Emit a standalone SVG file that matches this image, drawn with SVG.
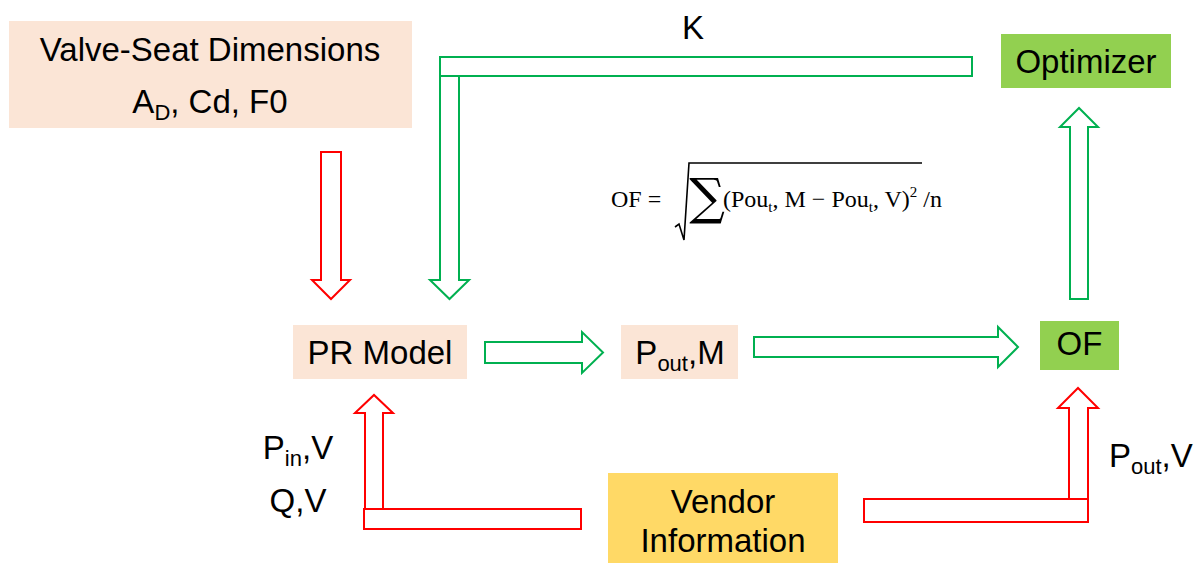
<svg xmlns="http://www.w3.org/2000/svg" width="1199" height="563" viewBox="0 0 1199 563">
<style>
.lbl{font-family:"Liberation Sans",Arial,sans-serif;font-size:33px;fill:#000}
.sub{font-size:22px}
.math{font-family:"Liberation Serif","Times New Roman",serif;font-size:24px;fill:#000}
.peach{fill:#FBE5D6}
.lime{fill:#92D050}
.gold{fill:#FFD966}
.g{fill:#fff;stroke:#00B050;stroke-width:2}
.r{fill:#fff;stroke:#FF0000;stroke-width:2}
</style>
<rect width="1199" height="563" fill="#fff"/>

<g id="connectors">
  <!-- K feedback: optimizer to PR model -->
  <rect class="g" x="440" y="57" width="532" height="19"/>
  <polygon class="g" points="440,76 459,76 459,280 469,280 449.5,299 430,280 440,280"/>
  <!-- valve seat to PR model -->
  <polygon class="r" points="321,152 341,152 341,280 350,280 331,299 312,280 321,280"/>
  <!-- PR model to Pout,M -->
  <polygon class="g" points="485,342 582,342 582,332 603,352.5 582,373 582,363 485,363"/>
  <!-- Pout,M to OF -->
  <polygon class="g" points="754,337 998,337 998,327 1018,347 998,367 998,357 754,357"/>
  <!-- OF to optimizer -->
  <polygon class="g" points="1070,299 1070,127 1060,127 1079,108 1098,127 1088,127 1088,299"/>
  <!-- vendor to PR model -->
  <rect class="r" x="364" y="509" width="217" height="20"/>
  <polygon class="r" points="365,509 365,413 355,413 374,395 393,413 383,413 383,509"/>
  <!-- vendor to OF -->
  <rect class="r" x="864" y="499" width="224" height="23"/>
  <polygon class="r" points="1069,499 1069,408 1058,408 1078,388 1098,408 1088,408 1088,499"/>
</g>

<g id="valve-seat">
  <rect class="peach" x="9" y="21" width="403" height="107"/>
  <text class="lbl" x="210" y="61" text-anchor="middle">Valve-Seat Dimensions</text>
  <text class="lbl" x="210" y="113" text-anchor="middle">A<tspan class="sub" dy="7">D</tspan><tspan dy="-7">, Cd, F0</tspan></text>
</g>

<g id="k-label">
  <text class="lbl" x="693" y="39" text-anchor="middle">K</text>
</g>

<g id="optimizer">
  <rect class="lime" x="1001" y="34" width="170" height="54"/>
  <text class="lbl" x="1086" y="73" text-anchor="middle">Optimizer</text>
</g>

<g id="formula">
  <text class="math" x="611" y="207">OF =</text>
  <polyline points="675,227 679,224 684,240 689,163 922,163" fill="none" stroke="#000" stroke-width="1.6"/>
  <text x="707" y="214" text-anchor="middle" font-family="'DejaVu Serif',serif" font-size="50" fill="#000">∑</text>
  <text class="math" x="723" y="207">(Pou<tspan font-size="15" dy="5">t</tspan><tspan dy="-5">, M − Pou</tspan><tspan font-size="15" dy="5">t</tspan><tspan dy="-5">, V)</tspan><tspan font-size="15" dy="-10">2</tspan><tspan dy="10"> /n</tspan></text>
</g>

<g id="pr-model">
  <rect class="peach" x="293" y="325" width="174" height="54"/>
  <text class="lbl" x="380" y="364" text-anchor="middle">PR Model</text>
</g>

<g id="pout-m">
  <rect class="peach" x="621" y="325" width="117" height="54"/>
  <text class="lbl" x="680" y="364" text-anchor="middle">P<tspan class="sub" dy="7">out</tspan><tspan dy="-7">,M</tspan></text>
</g>

<g id="of">
  <rect class="lime" x="1040" y="321" width="79" height="49"/>
  <text class="lbl" x="1079.5" y="355" text-anchor="middle">OF</text>
</g>

<g id="vendor">
  <rect class="gold" x="608" y="473" width="230" height="90"/>
  <text class="lbl" x="723" y="513" text-anchor="middle">Vendor</text>
  <text class="lbl" x="723" y="552" text-anchor="middle">Information</text>
</g>

<g id="vendor-labels">
  <text class="lbl" x="298" y="459" text-anchor="middle">P<tspan class="sub" dy="7">in</tspan><tspan dy="-7">,V</tspan></text>
  <text class="lbl" x="298" y="512" text-anchor="middle">Q,V</text>
  <text class="lbl" x="1109" y="467">P<tspan class="sub" dy="7">out</tspan><tspan dy="-7">,V</tspan></text>
</g>
</svg>
